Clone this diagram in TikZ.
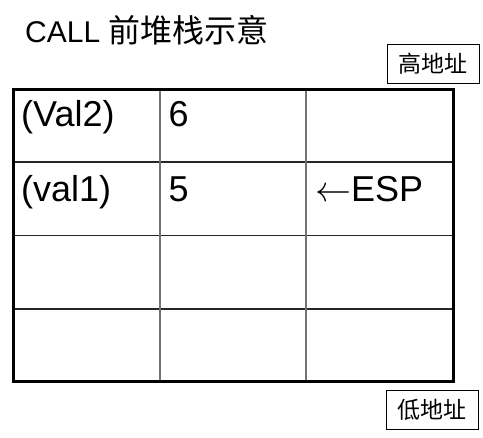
\RequirePackage{fix-cm}
\documentclass[tikz,border=0pt]{standalone}
\usepackage{fontspec}
\setmainfont{Liberation Sans}
\newfontfamily\cjk{Noto Sans CJK SC}
\begin{document}
\begin{tikzpicture}[x=1pt,y=-1pt,
  celltxt/.style={inner sep=0pt, anchor=base west, font=\fontsize{36}{36}\selectfont},
  titletxt/.style={inner sep=0pt, anchor=base west, font=\fontsize{30}{30}\selectfont},
  addrbox/.style={draw, line width=0.8pt, minimum width=92pt, minimum height=39pt, inner sep=0pt, font=\cjk\fontsize{23}{23}\selectfont},
  outerline/.style={line width=3pt},
  hline/.style={line width=1.4pt, black!85},
  vline/.style={line width=1.4pt, black!55}]
\useasboundingbox (0,0) rectangle (483,438);
% title
\node[titletxt] (title) at (25,43) {CALL {\cjk\fontsize{32}{32}\selectfont 前堆栈示意}};
% address labels
\node[addrbox] (hi) at (433,63.5) {高地址};
\node[addrbox] (lo) at (432,409.5) {低地址};
% table grid
\draw[hline] (13.5,162) -- (453.5,162);
\draw[hline] (13.5,235.5) -- (453.5,235.5);
\draw[hline] (13.5,309) -- (453.5,309);
\draw[vline] (160,89.5) -- (160,381.5);
\draw[vline] (306,89.5) -- (306,381.5);
\draw[outerline] (13.5,89.5) rectangle (453.5,381.5);
% cell texts
\node[celltxt] (v2) at (21,127) {(Val2)};
\node[celltxt] (n6) at (168.5,127) {6};
\node[celltxt] (v1) at (21,202) {(val1)};
\node[celltxt] (n5) at (168.5,202) {5};
\node[celltxt] (esp) at (315,202) {$\leftarrow$ESP};
\end{tikzpicture}
\end{document}
